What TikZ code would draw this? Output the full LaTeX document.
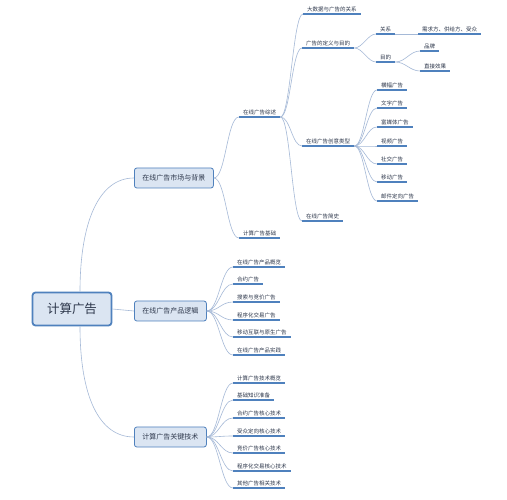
\documentclass[tikz,border=0pt]{standalone}
\usepackage{fontspec}
\newfontfamily\cjk{Noto Sans CJK SC}
\definecolor{boxblue}{RGB}{79, 129, 189}
\definecolor{boxfill}{RGB}{219, 229, 242}
\definecolor{linkblue}{RGB}{165, 185, 215}
\definecolor{txtgray}{RGB}{45, 55, 75}
\usetikzlibrary{positioning}

\begin{document}
\begin{tikzpicture}[
  x=1pt, y=-1pt,
  rootbox/.style={draw=boxblue, fill=boxfill, line width=1.8pt, rounded corners=3pt, minimum width=79pt, minimum height=33pt, font=\cjk\fontsize{12.5}{14}\selectfont, text=txtgray},
  topicbox/.style={draw=boxblue, fill=boxfill, line width=0.8pt, rounded corners=2.5pt, anchor=west, inner xsep=8pt, minimum height=20pt, font=\cjk\fontsize{7}{8}\selectfont, text=txtgray},
  uline/.style={draw=boxblue, line width=1.2pt},
  leaf/.style={anchor=south west, inner xsep=4pt, inner ysep=1.6pt, font=\cjk\fontsize{5.5}{6.5}\selectfont, text=txtgray,
    append after command={(\tikzlastnode.south west) edge[uline] (\tikzlastnode.south east)}},
  branch/.style={draw=linkblue, line width=0.6pt}
]
  \useasboundingbox[fill=white] (0,0) rectangle (507,500);

  % centre and main topics
  \node[rootbox] (root) at (72,309) {计算广告};
  \node[topicbox] (mk) at (134,178) {在线广告市场与背景};
  \node[topicbox] (cp) at (134,311) {在线广告产品逻辑};
  \node[topicbox] (gj) at (134,437) {计算广告关键技术};

  % market and background
  \node[leaf] (ov) at (239,117) {在线广告综述};
  \node[leaf] (jc) at (239,238) {计算广告基础};
  \node[leaf] (dsj) at (303,14) {大数据与广告的关系};
  \node[leaf] (dy) at (302,48) {广告的定义与目的};
  \node[leaf] (cy) at (302,146) {在线广告创意类型};
  \node[leaf] (js) at (302,221) {在线广告简史};
  \node[leaf] (gx) at (376,34) {关系};
  \node[leaf] (md) at (376,62) {目的};
  \node[leaf] (gf) at (418,34) {需求方、供给方、受众};
  \node[leaf] (pp) at (420,51) {品牌};
  \node[leaf] (xg) at (420,71) {直接效果};
  \node[leaf] (hf) at (377,90) {横幅广告};
  \node[leaf] (wz) at (377,108) {文字广告};
  \node[leaf] (fmt) at (377,127) {富媒体广告};
  \node[leaf] (sp) at (377,146) {视频广告};
  \node[leaf] (sj) at (377,164) {社交广告};
  \node[leaf] (yd) at (377,182) {移动广告};
  \node[leaf] (yj) at (377,201) {邮件定向广告};

  % product logic
  \node[leaf] (p1) at (233,267) {在线广告产品概览};
  \node[leaf] (p2) at (233,284) {合约广告};
  \node[leaf] (p3) at (233,302) {搜索与竞价广告};
  \node[leaf] (p4) at (233,320) {程序化交易广告};
  \node[leaf] (p5) at (233,337) {移动互联与原生广告};
  \node[leaf] (p6) at (233,355) {在线广告产品实践};

  % key technology
  \node[leaf] (t1) at (233,383) {计算广告技术概览};
  \node[leaf] (t2) at (233,400) {基础知识准备};
  \node[leaf] (t3) at (233,418) {合约广告核心技术};
  \node[leaf] (t4) at (233,436) {受众定向核心技术};
  \node[leaf] (t5) at (233,453) {竞价广告核心技术};
  \node[leaf] (t6) at (233,471) {程序化交易核心技术};
  \node[leaf] (t7) at (233,488) {其他广告相关技术};

  % links
  \draw[branch] ([xshift=8pt]root.north) .. controls +(0,-70) and +(-35,0) .. (mk.west);
  \draw[branch] (root.east) -- (cp.west);
  \draw[branch] ([xshift=8pt]root.south) .. controls +(0,70) and +(-35,0) .. (gj.west);

  \draw[branch] (mk.east) .. controls +(12,0) and +(-12,0) .. (ov.south west);
  \draw[branch] (mk.east) .. controls +(12,0) and +(-12,0) .. (jc.south west);
  \draw[branch] (ov.south east) .. controls +(10,0) and +(-10,0) .. (dsj.south west);
  \draw[branch] (ov.south east) .. controls +(10,0) and +(-10,0) .. (dy.south west);
  \draw[branch] (ov.south east) .. controls +(10,0) and +(-10,0) .. (cy.south west);
  \draw[branch] (ov.south east) .. controls +(10,0) and +(-10,0) .. (js.south west);
  \draw[branch] (dy.south east) .. controls +(8,0) and +(-8,0) .. (gx.south west);
  \draw[branch] (dy.south east) .. controls +(8,0) and +(-8,0) .. (md.south west);
  \draw[branch] (gx.south east) -- (gf.south west);
  \draw[branch] (md.south east) .. controls +(10,0) and +(-10,0) .. (pp.south west);
  \draw[branch] (md.south east) .. controls +(10,0) and +(-10,0) .. (xg.south west);
  \draw[branch] (cy.south east) .. controls +(10,0) and +(-10,0) .. (hf.south west);
  \draw[branch] (cy.south east) .. controls +(10,0) and +(-10,0) .. (wz.south west);
  \draw[branch] (cy.south east) .. controls +(10,0) and +(-10,0) .. (fmt.south west);
  \draw[branch] (cy.south east) .. controls +(10,0) and +(-10,0) .. (sp.south west);
  \draw[branch] (cy.south east) .. controls +(10,0) and +(-10,0) .. (sj.south west);
  \draw[branch] (cy.south east) .. controls +(10,0) and +(-10,0) .. (yd.south west);
  \draw[branch] (cy.south east) .. controls +(10,0) and +(-10,0) .. (yj.south west);

  \draw[branch] (cp.east) .. controls +(12,0) and +(-12,0) .. (p1.south west);
  \draw[branch] (cp.east) .. controls +(12,0) and +(-12,0) .. (p2.south west);
  \draw[branch] (cp.east) .. controls +(12,0) and +(-12,0) .. (p3.south west);
  \draw[branch] (cp.east) .. controls +(12,0) and +(-12,0) .. (p4.south west);
  \draw[branch] (cp.east) .. controls +(12,0) and +(-12,0) .. (p5.south west);
  \draw[branch] (cp.east) .. controls +(12,0) and +(-12,0) .. (p6.south west);

  \draw[branch] (gj.east) .. controls +(12,0) and +(-12,0) .. (t1.south west);
  \draw[branch] (gj.east) .. controls +(12,0) and +(-12,0) .. (t2.south west);
  \draw[branch] (gj.east) .. controls +(12,0) and +(-12,0) .. (t3.south west);
  \draw[branch] (gj.east) .. controls +(12,0) and +(-12,0) .. (t4.south west);
  \draw[branch] (gj.east) .. controls +(12,0) and +(-12,0) .. (t5.south west);
  \draw[branch] (gj.east) .. controls +(12,0) and +(-12,0) .. (t6.south west);
  \draw[branch] (gj.east) .. controls +(12,0) and +(-12,0) .. (t7.south west);
\end{tikzpicture}
\end{document}
